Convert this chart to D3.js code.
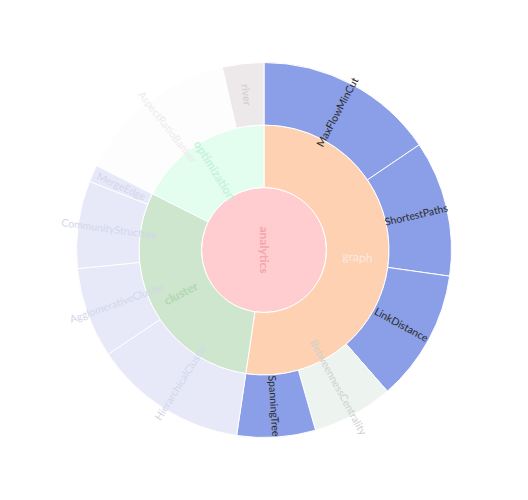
<!DOCTYPE html>
<html>
<head>
<meta charset="utf-8">
<script src="https://cdn.jsdelivr.net/npm/d3@7"></script>
<style>
html,body{margin:0;padding:0;background:#fff;}
svg{display:block;}
</style>
</head>
<body>
<svg id="chart" width="528" height="500"></svg>
<script>
// ---- data ----
const rootName = "analytics";
const categories = ["graph", "cluster", "optimization"];
const graphLeaves = ["BetweennessCentrality", "LinkDistance", "MaxFlowMinCut", "ShortestPaths", "SpanningTree"];
const graphValues = [3534, 5731, 7840, 5914, 3416];
const clusterLeaves = ["AgglomerativeCluster", "CommunityStructure", "HierarchicalCluster", "MergeEdge"];
const clusterValues = [3938, 3812, 6714, 743];
const optimizationLeaves = ["AspectRatioBanker", "river"];
const optimizationValues = [7074, 1800];

// ---- styles ----
const fills = {
  analytics: "#ffcdd0", graph: "#fed1b3", cluster: "#cde6cd", optimization: "#e3fdef",
  MaxFlowMinCut: "#8a9fe7", ShortestPaths: "#8a9fe7", LinkDistance: "#8a9fe7", SpanningTree: "#8a9fe7",
  BetweennessCentrality: "#edf3ef",
  HierarchicalCluster: "#e7e9f9", AgglomerativeCluster: "#e7e9f9", CommunityStructure: "#e7e9f9", MergeEdge: "#e7e9f9",
  AspectRatioBanker: "#fdfdfd", river: "#ede8ea"
};
const labelStyle = {
  analytics: ["#f5a4ab", "bold", 12], graph: ["#fdeadf", "normal", 12], cluster: ["#b2d6b2", "bold", 12], optimization: ["#c6f3da", "bold", 12],
  MaxFlowMinCut: ["#2a2a2a", "normal", 10.5], ShortestPaths: ["#2a2a2a", "normal", 10.5], LinkDistance: ["#2a2a2a", "normal", 10.5], SpanningTree: ["#2a2a2a", "normal", 10.5],
  BetweennessCentrality: ["#cdd0cd", "normal", 10.5],
  HierarchicalCluster: ["#d3d6ea", "normal", 10.5], AgglomerativeCluster: ["#d3d6ea", "normal", 10.5], CommunityStructure: ["#d3d6ea", "normal", 10.5], MergeEdge: ["#d3d6ea", "normal", 10.5],
  AspectRatioBanker: ["#ececec", "normal", 10.5], river: ["#d6cfd3", "bold", 10.5]
};

const leafSets = [[graphLeaves, graphValues], [clusterLeaves, clusterValues], [optimizationLeaves, optimizationValues]];
const tree = {
  name: rootName,
  children: categories.map((c, i) => ({
    name: c,
    children: leafSets[i][0].map((n, j) => ({ name: n, value: leafSets[i][1][j] }))
  }))
};

const cx = 264, cy = 250, R = 187.5;
const svg = d3.select("#chart");
const g = svg.append("g").attr("transform", `translate(${cx},${cy})`);

const root = d3.hierarchy(tree).sum(d => d.value || 0).sort((a, b) => b.value - a.value);
d3.partition().size([2 * Math.PI, 3])(root);
const r = d3.scaleLinear().domain([0, 3]).range([0, R]);

const arc = d3.arc()
  .startAngle(d => d.x0).endAngle(d => d.x1)
  .innerRadius(d => r(d.y0)).outerRadius(d => r(d.y1));

const nodes = root.descendants();
g.selectAll("path").data(nodes).join("path")
  .attr("d", arc)
  .attr("fill", d => fills[d.data.name])
  .attr("stroke", "#fff")
  .attr("stroke-width", 1);

g.selectAll("text").data(nodes).join("text")
  .attr("transform", d => {
    const a = (d.x0 + d.x1) / 2;
    const rr = d.depth === 0 ? 0 : r((d.y0 + d.y1) / 2);
    const x = rr * Math.sin(a), y = -rr * Math.cos(a);
    let deg = a * 180 / Math.PI - 90;
    if (a * 180 / Math.PI > 180) deg -= 180;
    return `translate(${x},${y}) rotate(${deg})`;
  })
  .attr("text-anchor", "middle")
  .attr("dominant-baseline", "central")
  .attr("font-family", "Lato, 'Noto Sans', sans-serif")
  .attr("font-size", d => labelStyle[d.data.name][2])
  .attr("fill", d => labelStyle[d.data.name][0])
  .attr("font-weight", d => labelStyle[d.data.name][1])
  .text(d => d.data.name);
</script>
</body>
</html>
